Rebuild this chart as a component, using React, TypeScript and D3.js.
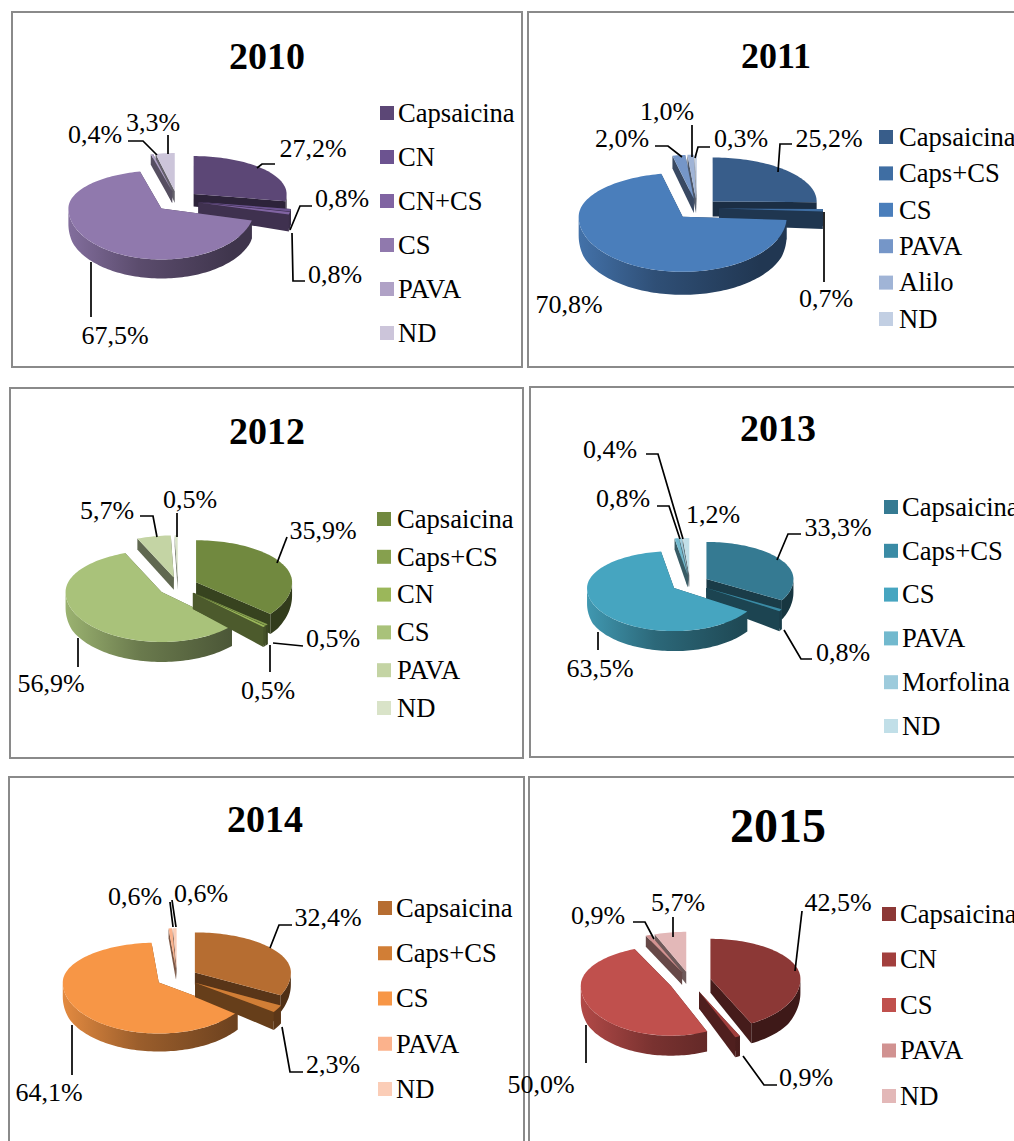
import React from 'react';
import * as d3 from 'd3';

const width = 1014;
const height = 1141;

const years = ['2010', '2011', '2012', '2013', '2014', '2015'];

const categories2010 = ['Capsaicina', 'CN', 'CN+CS', 'CS', 'PAVA', 'ND'];
const categories2011 = ['Capsaicina', 'Caps+CS', 'CS', 'PAVA', 'Alilo', 'ND'];
const categories2012 = ['Capsaicina', 'Caps+CS', 'CN', 'CS', 'PAVA', 'ND'];
const categories2013 = ['Capsaicina', 'Caps+CS', 'CS', 'PAVA', 'Morfolina', 'ND'];
const categories2014 = ['Capsaicina', 'Caps+CS', 'CS', 'PAVA', 'ND'];
const categories2015 = ['Capsaicina', 'CN', 'CS', 'PAVA', 'ND'];

const values2010 = [27.2, 0.8, 0.8, 67.5, 0.4, 3.3];
const values2011 = [25.2, 0.7, 70.8, 2.0, 1.0, 0.3];
const values2012 = [35.9, 0.5, 0.5, 56.9, 5.7, 0.5];
const values2013 = [33.3, 0.8, 63.5, 0.8, 0.4, 1.2];
const values2014 = [32.4, 2.3, 64.1, 0.6, 0.6];
const values2015 = [42.5, 0.9, 50.0, 0.9, 5.7];

const colors2010 = ['#5c4776', '#6c5390', '#8064a2', '#9079ad', '#b0a2c6', '#ccc5da'];
const colors2011 = ['#385d8a', '#3f6ea3', '#4a7ebb', '#7596c8', '#a0b4d6', '#c2cfe3'];
const colors2012 = ['#71893f', '#86a04e', '#9bb75a', '#a9c27a', '#c4d4a4', '#d9e3c8'];
const colors2013 = ['#357a92', '#3a8ba5', '#46a5c0', '#72b9ce', '#9dcbdc', '#c1dfe8'];
const colors2014 = ['#b66d31', '#d17e36', '#f79646', '#fbb28c', '#fbcdb7'];
const colors2015 = ['#8c3836', '#a23f3d', '#c0504d', '#d19291', '#e3b8b8'];

const allCategories = [categories2010, categories2011, categories2012, categories2013, categories2014, categories2015];
const allValues = [values2010, values2011, values2012, values2013, values2014, values2015];
const allColors = [colors2010, colors2011, colors2012, colors2013, colors2014, colors2015];

interface PieLayout {
  cx: number; cy: number; rx: number; ryTop: number; ryBottom: number; depth: number; explode: number;
}

interface Layout {
  frame: [number, number, number, number];
  titleX: number; titleY: number; titleSize: number;
  pie: PieLayout;
  swatchX: number; textX: number; rowFirst: number; rowLast: number;
}

// one entry per panel, same order as years
const layouts: Layout[] = [
  { frame: [12, 12, 510, 355], titleX: 267, titleY: 56, titleSize: 38,
    pie: { cx: 177, cy: 200, rx: 93, ryTop: 38, ryBottom: 51, depth: 19, explode: 22 },
    swatchX: 380, textX: 398, rowFirst: 113, rowLast: 333 },
  { frame: [528, 12, 520, 355], titleX: 776, titleY: 56, titleSize: 36,
    pie: { cx: 697, cy: 208, rx: 104, ryTop: 44, ryBottom: 55, depth: 23, explode: 22 },
    swatchX: 879, textX: 899, rowFirst: 137, rowLast: 319 },
  { frame: [10, 388, 513, 370], titleX: 267, titleY: 431, titleSize: 38,
    pie: { cx: 178, cy: 586, rx: 96, ryTop: 42, ryBottom: 50, depth: 20, explode: 20 },
    swatchX: 377, textX: 397, rowFirst: 519, rowLast: 708 },
  { frame: [530, 387, 520, 370], titleX: 778, titleY: 428, titleSize: 38,
    pie: { cx: 690, cy: 583, rx: 87, ryTop: 37, ryBottom: 43, depth: 20, explode: 19 },
    swatchX: 884, textX: 902, rowFirst: 507, rowLast: 726 },
  { frame: [9, 777, 515, 400], titleX: 265, titleY: 819, titleSize: 38,
    pie: { cx: 177, cy: 977, rx: 96, ryTop: 40, ryBottom: 51, depth: 18, explode: 21 },
    swatchX: 378, textX: 396, rowFirst: 908, rowLast: 1089 },
  { frame: [529, 777, 520, 400], titleX: 778, titleY: 826, titleSize: 48,
    pie: { cx: 690, cy: 981, rx: 90, ryTop: 40, ryBottom: 50, depth: 20, explode: 21 },
    swatchX: 882, textX: 900, rowFirst: 914, rowLast: 1096 },
];

// label position and leader line for each slice, same order as the values
type Callout = { x: number; y: number; leader: [number, number][] };
const callouts: Callout[][] = [
  [
    { x: 313, y: 148, leader: [[257, 168], [262, 164], [275, 164]] },
    { x: 342, y: 198, leader: [[290, 230], [300, 206], [312, 206]] },
    { x: 335, y: 274, leader: [[292, 233], [293, 281], [305, 281]] },
    { x: 115, y: 335, leader: [[91, 262], [91, 317]] },
    { x: 95, y: 134, leader: [[128, 141], [143, 141], [157, 155]] },
    { x: 153, y: 122, leader: [[168, 135], [168, 154]] },
  ],
  [
    { x: 829, y: 138, leader: [[778, 172], [780, 144], [792, 144]] },
    { x: 826, y: 298, leader: [[824, 212], [824, 282]] },
    { x: 569, y: 304, leader: [] },
    { x: 622, y: 138, leader: [[655, 146], [668, 146], [682, 157]] },
    { x: 667, y: 111, leader: [[692, 125], [692, 157]] },
    { x: 741, y: 138, leader: [[695, 158], [698, 147], [710, 147]] },
  ],
  [
    { x: 323, y: 530, leader: [[277, 563], [287, 537]] },
    { x: 333, y: 638, leader: [[273, 643], [303, 646]] },
    { x: 268, y: 690, leader: [[270, 645], [270, 672]] },
    { x: 51, y: 683, leader: [[78, 638], [78, 667]] },
    { x: 107, y: 510, leader: [[140, 516], [153, 516], [157, 537]] },
    { x: 190, y: 499, leader: [[177, 513], [177, 537]] },
  ],
  [
    { x: 838, y: 527, leader: [[777, 560], [788, 534], [801, 534]] },
    { x: 843, y: 652, leader: [[784, 630], [801, 659], [812, 659]] },
    { x: 600, y: 668, leader: [[598, 632], [598, 650]] },
    { x: 623, y: 498, leader: [[657, 506], [669, 506], [680, 539]] },
    { x: 610, y: 449, leader: [[646, 454], [658, 454], [683, 539]] },
    { x: 713, y: 514, leader: [] },
  ],
  [
    { x: 328, y: 917, leader: [[270, 948], [279, 925], [292, 925]] },
    { x: 333, y: 1064, leader: [[282, 1027], [290, 1072], [303, 1072]] },
    { x: 49, y: 1092, leader: [[72, 1025], [72, 1075]] },
    { x: 135, y: 896, leader: [[170, 902], [173, 927]] },
    { x: 201, y: 893, leader: [[172, 900], [176, 927]] },
  ],
  [
    { x: 838, y: 902, leader: [[795, 971], [802, 911]] },
    { x: 806, y: 1077, leader: [[743, 1056], [764, 1085], [777, 1085]] },
    { x: 541, y: 1084, leader: [[586, 1025], [586, 1063]] },
    { x: 598, y: 915, leader: [[633, 922], [645, 922], [654, 939]] },
    { x: 678, y: 902, leader: [[673, 917], [673, 937]] },
  ],
];

const FONT = '"Liberation Serif", "Times New Roman", serif';
const fmt = (v: number) => v.toFixed(1).replace('.', ',') + '%';
const line = d3.line<[number, number]>();

// Excel's 3-D pie has perspective, so the far half of the ellipse is flatter
const project = (a: number, r: number, p: PieLayout): [number, number] => {
  const c = Math.cos(a);
  return [r * Math.sin(a), (-r * c * (c > 0 ? p.ryTop : p.ryBottom)) / p.rx];
};

// same perspective: the wall gets thinner towards the back
const depthAt = (y: number, p: PieLayout) =>
  p.depth * Math.max(0.55, Math.min(1, 0.72 + (0.6 * (y - p.cy)) / p.ryBottom));

const sampleAngles = (a0: number, a1: number) => {
  const steps = Math.max(2, Math.ceil((a1 - a0) / 0.03));
  return d3.range(steps + 1).map(i => a0 + ((a1 - a0) * i) / steps);
};

const Pie3D: React.FC<{ id: string; values: number[]; colors: string[]; p: PieLayout }> = ({ id, values, colors, p }) => {
  const arcs = d3.pie<number>().sort(null).value(d => d)(values);
  const items = arcs.map((d, i) => {
    const mid = (d.startAngle + d.endAngle) / 2;
    const [ox, oy] = project(mid, p.explode, p);
    return { i, start: d.startAngle, end: d.endAngle, mid, ax: p.cx + ox, ay: p.cy + oy };
  });
  // back slices first, front ones paint over them
  const order = [...items].sort((a, b) => d3.descending(Math.cos(a.mid), Math.cos(b.mid)));

  return (
    <g>
      <defs>
        {colors.map((c, i) => (
          <linearGradient key={i} id={`${id}-wall-${i}`} gradientUnits="userSpaceOnUse"
            x1={p.cx - p.rx - p.explode} x2={p.cx + p.rx * 0.6} y1={0} y2={0}>
            <stop offset="0" stopColor={d3.color(c)!.darker(0.2).formatHex()} />
            <stop offset="0.45" stopColor={d3.color(c)!.darker(1.3).formatHex()} />
            <stop offset="1" stopColor={d3.color(c)!.darker(2.3).formatHex()} />
          </linearGradient>
        ))}
      </defs>
      {order.map(s => {
        const base = colors[s.i];
        const rim = (a: number): [number, number] => {
          const [x, y] = project(a, p.rx, p);
          return [s.ax + x, s.ay + y];
        };
        const down = ([x, y]: [number, number]): [number, number] => [x, y + depthAt(y, p)];
        const apex: [number, number] = [s.ax, s.ay];
        const topPts: [number, number][] = [apex, ...sampleAngles(s.start, s.end).map(rim)];
        const cut = (a: number): [number, number][] => [apex, rim(a), down(rim(a)), down(apex)];
        const w0 = Math.max(s.start, Math.PI / 2);
        const w1 = Math.min(s.end, (3 * Math.PI) / 2);
        const shade = d3.color(base)!.darker(2).formatHex();
        return (
          <g key={s.i}>
            <path d={line(cut(s.start))! + 'Z'} fill={shade} />
            <path d={line(cut(s.end))! + 'Z'} fill={shade} />
            {w1 > w0 && (
              <path
                d={line([
                  ...sampleAngles(w0, w1).map(rim),
                  ...sampleAngles(w0, w1).reverse().map(a => down(rim(a))),
                ])! + 'Z'}
                fill={`url(#${id}-wall-${s.i})`}
              />
            )}
            <path d={line(topPts)! + 'Z'} fill={base} />
          </g>
        );
      })}
    </g>
  );
};

const Panel: React.FC<{ index: number }> = ({ index }) => {
  const l = layouts[index];
  const cats = allCategories[index];
  const vals = allValues[index];
  const cols = allColors[index];
  const rowY = d3.scalePoint<string>().domain(cats).range([l.rowFirst, l.rowLast]);
  const [fx, fy, fw, fh] = l.frame;
  return (
    <g fontFamily={FONT} fill="#000">
      <rect x={fx} y={fy} width={fw} height={fh} fill="#fff" stroke="#8a8a8a" strokeWidth={2} />
      <text x={l.titleX} y={l.titleY} dy="0.33em" textAnchor="middle" fontWeight="bold" fontSize={l.titleSize}>
        {years[index]}
      </text>
      <Pie3D id={`p${years[index]}`} values={vals} colors={cols} p={l.pie} />
      {callouts[index].map((c, i) => (
        <g key={i}>
          {c.leader.length > 0 && (
            <path d={line(c.leader)!} fill="none" stroke="#000" strokeWidth={1.7} />
          )}
          <text x={c.x} y={c.y} dy="0.33em" textAnchor="middle" fontSize={26}>{fmt(vals[i])}</text>
        </g>
      ))}
      {cats.map((c, i) => (
        <g key={c}>
          <rect x={l.swatchX} y={rowY(c)! - 7} width={14} height={14} fill={cols[i]} />
          <text x={l.textX} y={rowY(c)!} dy="0.33em" fontSize={26.6}>{c}</text>
        </g>
      ))}
    </g>
  );
};

const App: React.FC = () => (
  <svg width={width} height={height} viewBox={`0 0 ${width} ${height}`}
    style={{ position: 'absolute', left: 0, top: 0, background: '#fff' }}>
    {years.map((y, i) => <Panel key={y} index={i} />)}
  </svg>
);

export default App;
